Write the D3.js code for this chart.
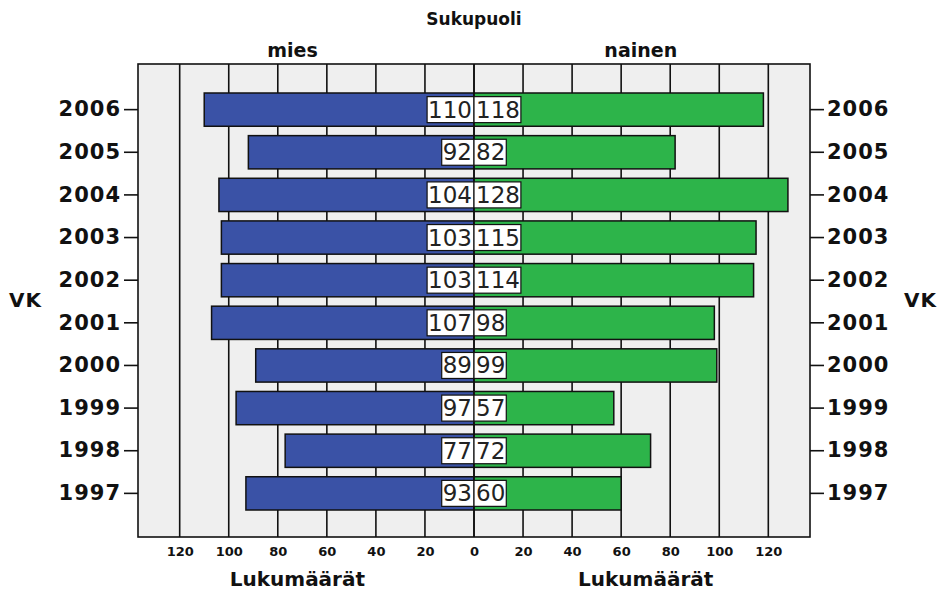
<!DOCTYPE html>
<html>
<head>
<meta charset="utf-8">
<script src="https://cdn.jsdelivr.net/npm/d3@7"></script>
<style>
  body { margin: 0; background: #fff; }
  text { font-family: "DejaVu Sans", sans-serif; }
</style>
</head>
<body>
<svg id="canvas" width="938" height="591"></svg>
<script>
// vuodet ylhäältä alas
const years = ["2006", "2005", "2004", "2003", "2002", "2001", "2000", "1999", "1998", "1997"];
const mies = [110, 92, 104, 103, 103, 107, 89, 97, 77, 93];
const nainen = [118, 82, 128, 115, 114, 98, 99, 57, 72, 60];
const tickValues = [-120, -100, -80, -60, -40, -20, 0, 20, 40, 60, 80, 100, 120];

const svg = d3.select("#canvas");

const pLeft = 138, pRight = 810, pTop = 64, pBottom = 537;

const x = d3.scaleLinear().domain([-137, 137]).range([pLeft, pRight]);
const y = d3.scaleBand().domain(years).range([93, 510]).paddingInner(0.22);

// tausta
svg.append("rect")
  .attr("x", pLeft).attr("y", pTop)
  .attr("width", pRight - pLeft).attr("height", pBottom - pTop)
  .attr("fill", "#efefef");

// pystyviivat
svg.selectAll("line.grid")
  .data(tickValues)
  .enter()
  .append("line")
  .attr("class", "grid")
  .attr("x1", (d) => x(d)).attr("x2", (d) => x(d))
  .attr("y1", pTop).attr("y2", pBottom)
  .attr("stroke", "#111")
  .attr("stroke-width", 1.6);

// palkit
const rows = years.map((yr, i) => ({ yr, m: mies[i], n: nainen[i] }));

svg.selectAll("rect.mies")
  .data(rows)
  .enter()
  .append("rect")
  .attr("class", "mies")
  .attr("x", (d) => x(-d.m))
  .attr("y", (d) => y(d.yr))
  .attr("width", (d) => x(0) - x(-d.m))
  .attr("height", y.bandwidth())
  .attr("fill", "#3a52a6")
  .attr("stroke", "#111")
  .attr("stroke-width", 1.5);

svg.selectAll("rect.nainen")
  .data(rows)
  .enter()
  .append("rect")
  .attr("class", "nainen")
  .attr("x", x(0))
  .attr("y", (d) => y(d.yr))
  .attr("width", (d) => x(d.n) - x(0))
  .attr("height", y.bandwidth())
  .attr("fill", "#2db44a")
  .attr("stroke", "#111")
  .attr("stroke-width", 1.5);

// keskiviiva
svg.append("line")
  .attr("x1", x(0)).attr("x2", x(0))
  .attr("y1", pTop).attr("y2", pBottom)
  .attr("stroke", "#111").attr("stroke-width", 1.6);

// arvolaatikot
const labelG = svg.append("g");
rows.forEach((d) => {
  const cy = y(d.yr) + y.bandwidth() / 2;
  [[d.m, "end"], [d.n, "start"]].forEach(([v, anchor]) => {
    const t = labelG.append("text")
      .attr("x", anchor === "end" ? x(0) - 2 : x(0) + 2)
      .attr("y", cy + 8)
      .attr("text-anchor", anchor)
      .attr("font-size", 23)
      .attr("fill", "#222")
      .text(v);
    const bb = t.node().getBBox();
    const w = bb.width + 3;
    labelG.insert("rect", "text")
      .attr("x", anchor === "end" ? x(0) - w : x(0))
      .attr("y", cy - 13)
      .attr("width", w)
      .attr("height", 26)
      .attr("fill", "#fff")
      .attr("stroke", "#111")
      .attr("stroke-width", 1.2);
  });
});

// runko
svg.append("rect")
  .attr("x", pLeft).attr("y", pTop)
  .attr("width", pRight - pLeft).attr("height", pBottom - pTop)
  .attr("fill", "none")
  .attr("stroke", "#111")
  .attr("stroke-width", 1.6);

// y-akselit
const yLeft = svg.append("g").attr("transform", `translate(${pLeft},0)`)
  .call(d3.axisLeft(y).tickSize(14).tickPadding(3));
const yRight = svg.append("g").attr("transform", `translate(${pRight},0)`)
  .call(d3.axisRight(y).tickSize(14).tickPadding(3));
[yLeft, yRight].forEach((g) => {
  g.select(".domain").remove();
  g.selectAll(".tick line").attr("stroke", "#111").attr("stroke-width", 1.6);
  g.selectAll(".tick text")
    .attr("font-family", "DejaVu Sans")
    .attr("font-weight", "bold")
    .attr("font-size", 21)
    .attr("letter-spacing", 1)
    .attr("fill", "#111");
});

// x-akseli
const xAxis = svg.append("g").attr("transform", `translate(0,${pBottom})`)
  .call(d3.axisBottom(x).tickValues(tickValues).tickSize(0).tickPadding(10)
    .tickFormat((d) => Math.abs(d)));
xAxis.select(".domain").remove();
xAxis.selectAll(".tick text")
  .attr("font-family", "DejaVu Sans")
  .attr("font-weight", "bold")
  .attr("font-size", 13)
  .attr("fill", "#111");

// otsikot
const bold = (sel) => sel.attr("font-weight", "bold").attr("fill", "#111");
bold(svg.append("text").attr("x", x(0)).attr("y", 25).attr("text-anchor", "middle")
  .attr("font-size", 17).text("Sukupuoli"));
bold(svg.append("text").attr("x", x(-74)).attr("y", 57).attr("text-anchor", "middle")
  .attr("font-size", 19).text("mies"));
bold(svg.append("text").attr("x", x(68)).attr("y", 57).attr("text-anchor", "middle")
  .attr("font-size", 19).text("nainen"));
bold(svg.append("text").attr("x", x(-72)).attr("y", 586).attr("text-anchor", "middle")
  .attr("font-size", 20).text("Lukumäärät"));
bold(svg.append("text").attr("x", x(70)).attr("y", 586).attr("text-anchor", "middle")
  .attr("font-size", 20).text("Lukumäärät"));
bold(svg.append("text").attr("x", 9).attr("y", 307)
  .attr("font-size", 20).attr("letter-spacing", 1).text("VK"));
bold(svg.append("text").attr("x", 904).attr("y", 307)
  .attr("font-size", 20).attr("letter-spacing", 1).text("VK"));
</script>
</body>
</html>
